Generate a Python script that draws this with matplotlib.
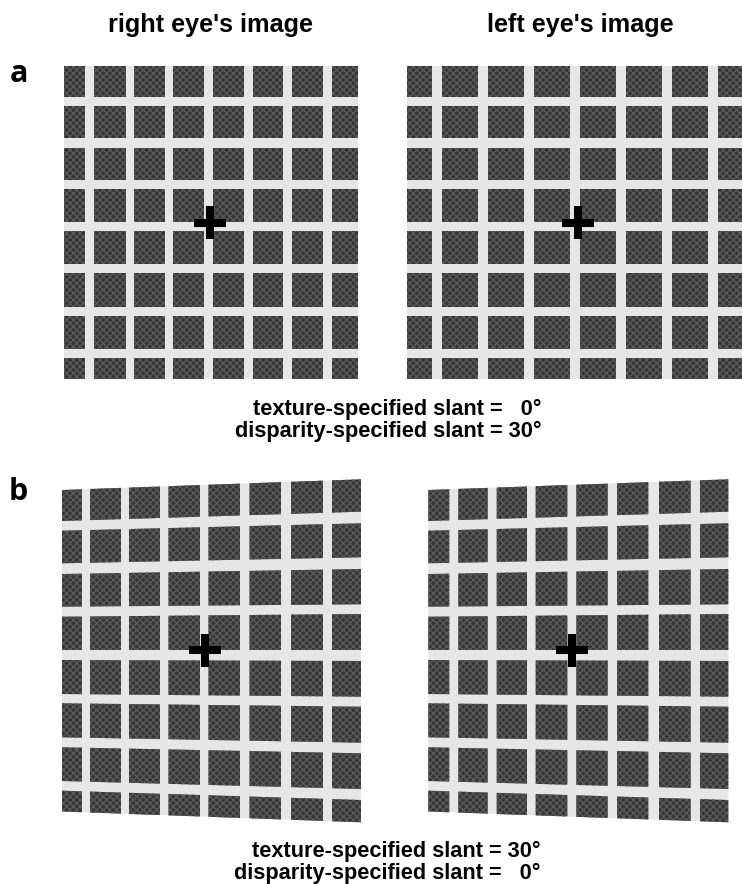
import matplotlib
matplotlib.use("Agg")
import matplotlib.pyplot as plt
from matplotlib.patches import Polygon

# tile edges of each stimulus in pixels
a_right_x = [63.5, 85, 94, 126, 133.5, 165, 173, 204, 213, 244, 253, 283, 292, 323, 332, 358]
a_left_x = [407, 432.3, 441.7, 478.3, 487.7, 524, 533.7, 570, 580, 616, 626, 661.7, 672.3, 707.7, 717.7, 742]
a_y = [66, 97, 105.5, 137.7, 147.5, 180, 189, 222, 231, 264.3, 273.3, 306.7, 315.7, 349, 357.7, 379]

b_right_x = [62, 82, 90, 121, 129, 160, 168.5, 200, 208.5, 240, 249.5, 281, 291, 323, 332, 361]
b_left_x = [428.3, 449.3, 458.3, 487.7, 496.7, 527, 535.7, 567.3, 576.3, 607.7, 617, 648.3, 659, 690.7, 700, 728.3]
b_y_near = [490, 521, 530.7, 563.3, 574, 606.7, 616.7, 650, 660, 694, 703.3, 737.3, 747.3, 781, 790.7, 811.5]
b_y_far = [479.3, 511.7, 523.3, 557.3, 569, 604.3, 614, 650, 661, 696.7, 706.7, 742.7, 753.3, 789, 800, 822.3]

crosses = [(209.7, 222.5), (577.7, 222.5), (205, 650), (572.3, 650)]

captions_a = ["texture-specified slant =   0\u00b0", "disparity-specified slant = 30\u00b0"]
captions_b = ["texture-specified slant = 30\u00b0", "disparity-specified slant =   0\u00b0"]

TILE = "#363636"
SPECKLE = "#5c5c5c"
BAR = "#e6e6e6"

plt.rcParams["hatch.linewidth"] = 0.9
plt.rcParams["font.family"] = ["Liberation Sans", "DejaVu Sans"]

fig = plt.figure(figsize=(7.42, 8.84), dpi=100)
ax = fig.add_axes([0, 0, 1, 1])
ax.set_xlim(0, 742)
ax.set_ylim(884, 0)
ax.axis("off")


def draw_stimulus(xs, ys_near, ys_far):
    # rows run from the near edge (left side) to the far edge (right side)
    x0, x1 = xs[0], xs[-1]

    def row_y(i, x):
        t = (x - x0) / (x1 - x0)
        return ys_near[i] + t * (ys_far[i] - ys_near[i])

    ax.add_patch(Polygon([(x0, ys_near[0]), (x1, ys_far[0]), (x1, ys_far[-1]), (x0, ys_near[-1])],
                         facecolor=BAR, edgecolor="none", zorder=1))
    for c in range(0, len(xs), 2):
        for r in range(0, len(ys_near), 2):
            left, right = xs[c], xs[c + 1]
            corners = [(left, row_y(r, left)), (right, row_y(r, right)),
                       (right, row_y(r + 1, right)), (left, row_y(r + 1, left))]
            ax.add_patch(Polygon(corners, facecolor=TILE, edgecolor=SPECKLE, hatch="xxxxx", lw=0, zorder=2))


draw_stimulus(a_right_x, a_y, a_y)
draw_stimulus(a_left_x, a_y, a_y)
draw_stimulus(b_right_x, b_y_near, b_y_far)
draw_stimulus(b_left_x, b_y_near, b_y_far)

for cx, cy in crosses:
    ax.plot([cx - 16, cx + 16], [cy, cy], color="black", lw=5.8, solid_capstyle="butt", zorder=3)
    ax.plot([cx, cx], [cy - 16.5, cy + 16.5], color="black", lw=5.8, solid_capstyle="butt", zorder=3)

ax.text(210.8, 32, "right eye's image", fontsize=18.15, fontweight="bold", ha="center", va="baseline")
ax.text(580, 32, "left eye's image", fontsize=18.15, fontweight="bold", ha="center", va="baseline")

ax.text(10, 82, "a", fontsize=22, fontweight="bold", family="Open Sans", ha="left", va="baseline")
ax.text(9, 500, "b", fontsize=22, fontweight="bold", family="Open Sans", ha="left", va="baseline")

ax.text(541.5, 415, captions_a[0], fontsize=15.65, fontweight="bold", ha="right", va="baseline")
ax.text(541.5, 437, captions_a[1], fontsize=15.65, fontweight="bold", ha="right", va="baseline")
ax.text(540.5, 857, captions_b[0], fontsize=15.65, fontweight="bold", ha="right", va="baseline")
ax.text(540.5, 879, captions_b[1], fontsize=15.65, fontweight="bold", ha="right", va="baseline")

fig.savefig("out.png", dpi=100)
